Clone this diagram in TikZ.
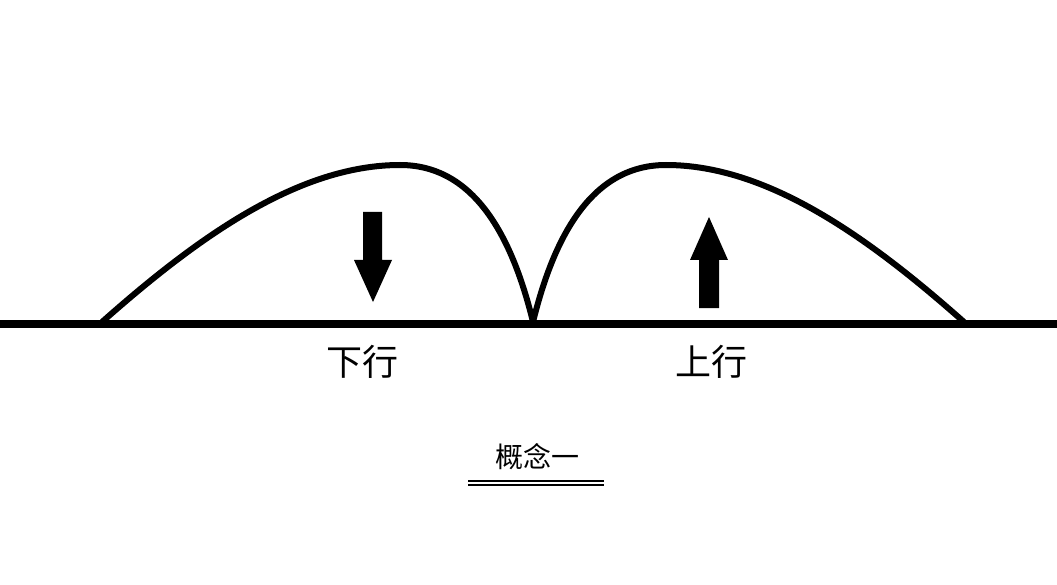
\documentclass[tikz,border=0pt]{standalone}
\usepackage{fontspec}
\newfontfamily\cjk{Noto Sans CJK SC}
\tikzset{
  arc/.style={line width=6pt, line join=round},
  ground/.style={line width=7.5pt},
  bigarrow/.style={fill=black, draw=none},
  label/.style={font=\cjk\fontsize{36}{40}\selectfont, inner sep=0pt},
  titlelabel/.style={font=\cjk\fontsize{28}{32}\selectfont, inner sep=0pt},
  rule/.style={line width=2pt}
}
\begin{document}
\begin{tikzpicture}[x=1pt,y=-1pt]
\useasboundingbox (0,0) rectangle (1057,585);
% ground line
\coordinate (gl) at (0,323.8);
\coordinate (gr) at (1057,323.8);
\draw[ground] (gl) -- (gr);
% arcs
\coordinate (a0) at (102,322);
\coordinate (ap) at (400,165);
\coordinate (am) at (533,322);
\coordinate (bp) at (666,165);
\coordinate (b1) at (964,322);
\draw[arc] (a0) .. controls (200,235) and (300,165) .. (ap)
  .. controls (472,165) and (511,232) .. (am)
  .. controls (555,232) and (594,165) .. (bp)
  .. controls (766,165) and (866,235) .. (b1);
% down arrow
\fill[bigarrow] (363,212) -- (382,212) -- (382,260) -- (392,260) -- (373,302) -- (354,260) -- (363,260) -- cycle;
% up arrow
\fill[bigarrow] (699,308) -- (719,308) -- (719,260) -- (728,260) -- (709,217) -- (690,260) -- (699,260) -- cycle;
% labels
\node[label] (down) at (362,362) {下行};
\node[label] (up) at (711,362) {上行};
\node[titlelabel] (title) at (537,457) {概念一};
\coordinate (r1l) at (468,480.7);
\coordinate (r1r) at (604,480.7);
\coordinate (r2l) at (468,484.5);
\coordinate (r2r) at (604,484.5);
\draw[rule] (r1l) -- (r1r);
\draw[rule] (r2l) -- (r2r);
\end{tikzpicture}
\end{document}
